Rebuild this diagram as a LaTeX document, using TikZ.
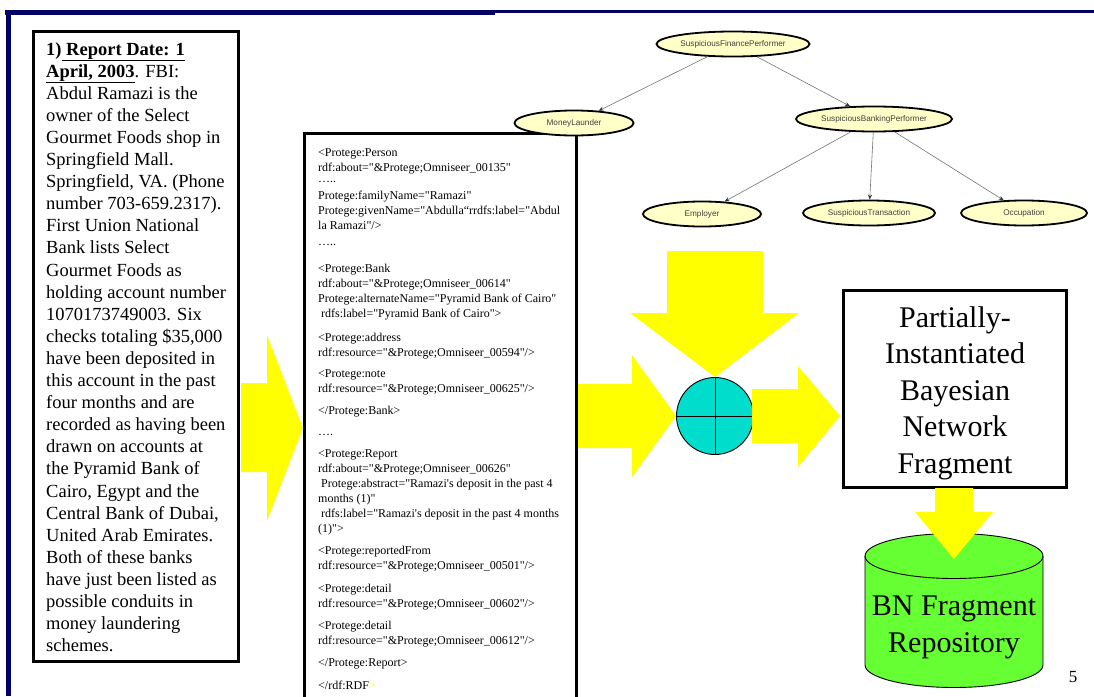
\documentclass[tikz,border=0pt]{standalone}
\usepackage{fontspec}
\setmainfont{Liberation Serif}
\newfontfamily\codefont{Liberation Serif}[Ligatures=TeXOff]
\newfontfamily\graphfont{Liberation Sans}
\usetikzlibrary{arrows.meta,shapes.geometric}

\definecolor{navy}{RGB}{0,0,102}
\definecolor{arrowyellow}{RGB}{255,255,0}
\definecolor{nodeyellow}{RGB}{255,255,200}
\definecolor{turq}{RGB}{0,221,204}
\definecolor{repogreen}{RGB}{102,255,51}

\begin{document}
\begin{tikzpicture}[x=1pt,y=-1pt,
  framebox/.style={draw, line width=2.8pt, inner sep=0pt, outer sep=0pt},
  rdf/.style={anchor=base west, inner sep=0pt, font=\codefont\fontsize{12}{15}\selectfont},
  bn/.style={ellipse, draw, line width=1.8pt, fill=nodeyellow, inner sep=0pt,
    minimum height=25, text=black!75, font=\graphfont\fontsize{8.2}{9}\selectfont},
  edge/.style={draw=black!55, line width=0.6pt, -{Stealth[length=5pt,width=4pt,black!80]}},
  blockarrow/.style={fill=arrowyellow}
]
\useasboundingbox (0,0) rectangle (1094,696);

% slide frame
\fill[navy] (5,10) rectangle (495,14.5);
\fill[navy] (495,10) rectangle (1094,13.3);
\fill[navy] (5.5,10) rectangle (10.5,696);

% report text box
\node[framebox, anchor=north west, minimum width=205, minimum height=630] (report) at (33.5,31.5) {};
\node[anchor=north west, inner sep=0pt, align=left,
      font=\fontsize{18.5}{22.1}\selectfont] (reporttext) at (46,42) {%
\textbf{1)\underline{\ Report Date: 1}}\\
\textbf{\underline{April, 2003}}. FBI:\\
Abdul Ramazi is the\\
owner of the Select\\
Gourmet Foods shop in\\
Springfield Mall.\\
Springfield, VA. (Phone\\
number 703-659.2317).\\
First Union National\\
Bank lists Select\\
Gourmet Foods as\\
holding account number\\
1070173749003. Six\\
checks totaling \$35,000\\
have been deposited in\\
this account in the past\\
four months and are\\
recorded as having been\\
drawn on accounts at\\
the Pyramid Bank of\\
Cairo, Egypt and the\\
Central Bank of Dubai,\\
United Arab Emirates.\\
Both of these banks\\
have just been listed as\\
possible conduits in\\
money laundering\\
schemes.};

% RDF listing box (runs off the bottom edge)
\node[framebox, anchor=north west, minimum width=272, minimum height=620] (rdfbox) at (304.5,133.5) {};
\node[rdf] (r1)  at (318,156) {<Protege:Person};
\node[rdf] (r2)  at (318,171) {rdf:about="\&Protege;Omniseer\_00135"};
\node[rdf] (r3)  at (318,182) {…..};
\node[rdf] (r4)  at (318,199) {Protege:familyName="Ramazi"};
\node[rdf] (r5)  at (318,214) {Protege:givenName="Abdulla“rrdfs:label="Abdul};
\node[rdf] (r6)  at (318,229) {la Ramazi"/>};
\node[rdf] (r7)  at (318,245) {…..};
\node[rdf] (r8)  at (318,272) {<Protege:Bank};
\node[rdf] (r9)  at (318,287) {rdf:about="\&Protege;Omniseer\_00614"};
\node[rdf] (r10) at (318,302) {Protege:alternateName="Pyramid Bank of Cairo"};
\node[rdf] (r11) at (321,317) {rdfs:label="Pyramid Bank of Cairo">};
\node[rdf] (r12) at (318,341) {<Protege:address};
\node[rdf] (r13) at (318,356) {rdf:resource="\&Protege;Omniseer\_00594"/>};
\node[rdf] (r14) at (318,377) {<Protege:note};
\node[rdf] (r15) at (318,392) {rdf:resource="\&Protege;Omniseer\_00625"/>};
\node[rdf] (r16) at (318,414) {</Protege:Bank>};
\node[rdf] (r17) at (318,435) {….};
\node[rdf] (r18) at (318,457) {<Protege:Report};
\node[rdf] (r19) at (318,472) {rdf:about="\&Protege;Omniseer\_00626"};
\node[rdf] (r20) at (321,487) {Protege:abstract="Ramazi's deposit in the past 4};
\node[rdf] (r21) at (318,502) {months (1)"};
\node[rdf] (r22) at (321,517) {rdfs:label="Ramazi's deposit in the past 4 months};
\node[rdf] (r23) at (318,532) {(1)">};
\node[rdf] (r24) at (318,554) {<Protege:reportedFrom};
\node[rdf] (r25) at (318,569) {rdf:resource="\&Protege;Omniseer\_00501"/>};
\node[rdf] (r26) at (318,592) {<Protege:detail};
\node[rdf] (r27) at (318,607) {rdf:resource="\&Protege;Omniseer\_00602"/>};
\node[rdf] (r28) at (318,629) {<Protege:detail};
\node[rdf] (r29) at (318,644) {rdf:resource="\&Protege;Omniseer\_00612"/>};
\node[rdf] (r30) at (318,666) {</Protege:Report>};
\node[rdf] (r31) at (318,689) {</rdf:RDF\textcolor{arrowyellow}{>}};

% combining circle
\node[circle, draw, line width=0.9pt, fill=turq, minimum size=77, inner sep=0pt] (merge) at (715,416) {};
\draw[line width=0.9pt] (merge.north) -- (merge.south) (merge.west) -- (merge.east);

% block arrows
\fill[blockarrow] (241,383) -- (267,383) -- (267,335) -- (303,428) -- (267,521) -- (267,472) -- (241,472) -- cycle;
\fill[blockarrow] (578,384) -- (632,384) -- (632,355) -- (merge.west) -- (632,477) -- (632,448) -- (578,448) -- cycle;
\fill[blockarrow] (667,251) -- (763,251) -- (763,313) -- (799,313) -- (merge.north) -- (630,313) -- (667,313) -- cycle;
\fill[blockarrow] (752,389) -- (798,389) -- (798,366) -- (840,416) -- (798,467) -- (798,443) -- (752,443) -- cycle;

% result fragment box
\node[framebox, fill=white, minimum width=223, minimum height=197] (frag) at (955,389) {};
\node[align=center, inner sep=0pt, font=\fontsize{30}{36.5}\selectfont] (fragtext) at (955,393)
  {Partially-\\Instantiated\\Bayesian\\Network\\Fragment};

% repository cylinder
\path[draw, line width=0.9pt, fill=repogreen]
  (865,556) -- (865,665) arc[start angle=180, end angle=0, x radius=89, y radius=22.5]
  -- (1043,556) arc[start angle=0, end angle=-180, x radius=89, y radius=22.5] -- cycle;
\draw[line width=0.9pt] (865,556) arc[start angle=180, end angle=0, x radius=89, y radius=22.5];
\node[align=center, inner sep=0pt, font=\fontsize{30}{37}\selectfont] (repo) at (954,627.5)
  {BN Fragment\\Repository};
\coordinate (repotop) at (954,559);
\fill[blockarrow] (935,488) -- (973,488) -- (973,512) -- (993,512) -- (repotop) -- (915,512) -- (935,512) -- cycle;

% page number
\node[inner sep=0pt, font=\fontsize{17}{20}\selectfont] (pagenum) at (1073,677) {5};

% Bayesian network fragment
\node[bn, minimum width=153] (sfp) at (733,44) {SuspiciousFinancePerformer};
\node[bn, minimum width=119] (ml)  at (574,123) {MoneyLaunder};
\node[bn, minimum width=156] (sbp) at (874,119) {SuspiciousBankingPerformer};
\node[bn, minimum width=118] (emp) at (702,214) {Employer};
\node[bn, minimum width=132] (st)  at (869,213) {SuspiciousTransaction};
\node[bn, minimum width=126] (occ) at (1024,213) {Occupation};
\draw[edge] (sfp) -- (ml);
\draw[edge] (sfp) -- (sbp);
\draw[edge] (sbp) -- (emp);
\draw[edge] (sbp) -- (st);
\draw[edge] (sbp) -- (occ);
\end{tikzpicture}
\end{document}
